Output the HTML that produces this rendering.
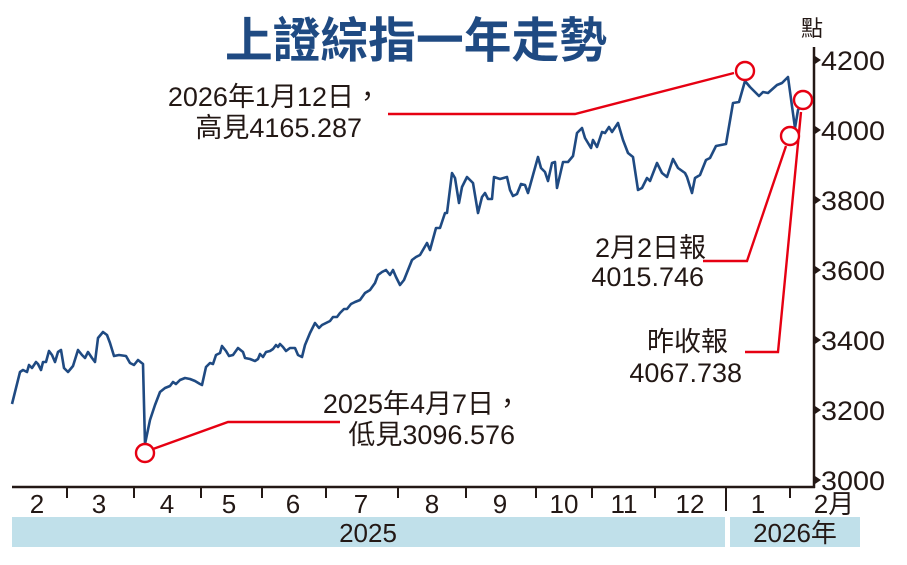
<!DOCTYPE html>
<html><head><meta charset="utf-8"><style>
html,body{margin:0;padding:0;background:#fff;}
svg{display:block;}
text{font-family:"Liberation Sans","Noto Sans CJK TC",sans-serif;fill:#231815;}
</style></head><body>
<svg width="907" height="565" viewBox="0 0 907 565" xmlns="http://www.w3.org/2000/svg">
<text x="225" y="57" font-size="48" font-weight="bold" textLength="382" lengthAdjust="spacingAndGlyphs" style="fill:#1f4a82" font-family="'Noto Sans CJK TC',sans-serif">上證綜指一年走勢</text>
<text x="812" y="36" text-anchor="middle" font-size="22">點</text>
<!-- axes -->
<line x1="814" y1="47" x2="814" y2="488" stroke="#231815" stroke-width="2.5"/>
<line x1="12" y1="487" x2="815" y2="487" stroke="#231815" stroke-width="2.5"/>
<g stroke="#231815" stroke-width="2">
<line x1="67" y1="487" x2="67" y2="498"/><line x1="134" y1="487" x2="134" y2="498"/>
<line x1="201" y1="487" x2="201" y2="498"/><line x1="262" y1="487" x2="262" y2="498"/>
<line x1="326" y1="487" x2="326" y2="498"/><line x1="398" y1="487" x2="398" y2="498"/>
<line x1="466" y1="487" x2="466" y2="498"/><line x1="536" y1="487" x2="536" y2="498"/>
<line x1="592" y1="487" x2="592" y2="498"/><line x1="655" y1="487" x2="655" y2="498"/>
<line x1="726" y1="487" x2="726" y2="511"/><line x1="790" y1="487" x2="790" y2="498"/>
</g>
<g font-size="26" text-anchor="middle">
<text x="37" y="513">2</text><text x="99" y="513">3</text><text x="167" y="513">4</text>
<text x="229" y="513">5</text><text x="293" y="513">6</text><text x="361" y="513">7</text>
<text x="432" y="513">8</text><text x="500" y="513">9</text><text x="564" y="513">10</text>
<text x="624" y="513">11</text><text x="690" y="513">12</text><text x="758" y="513">1</text>
<text x="834" y="513">2月</text>
</g>
<rect x="12" y="517" width="713" height="30" fill="#c0e0ea"/>
<rect x="730" y="517" width="130" height="30" fill="#c0e0ea"/>
<text x="368" y="542" font-size="26" text-anchor="middle">2025</text>
<text x="795" y="542" font-size="26" text-anchor="middle">2026年</text>
<!-- y ticks -->
<g font-size="27">
<text x="821" y="70" textLength="64" lengthAdjust="spacingAndGlyphs">4200</text>
<text x="821" y="140" textLength="64" lengthAdjust="spacingAndGlyphs">4000</text>
<text x="821" y="210" textLength="64" lengthAdjust="spacingAndGlyphs">3800</text>
<text x="821" y="280" textLength="64" lengthAdjust="spacingAndGlyphs">3600</text>
<text x="821" y="350" textLength="64" lengthAdjust="spacingAndGlyphs">3400</text>
<text x="821" y="420" textLength="64" lengthAdjust="spacingAndGlyphs">3200</text>
<text x="821" y="490" textLength="64" lengthAdjust="spacingAndGlyphs">3000</text>
</g>
<g fill="#231815">
<polygon points="815,56 821,60 815,64"/><polygon points="815,126 821,130 815,134"/>
<polygon points="815,196 821,200 815,204"/><polygon points="815,266 821,270 815,274"/>
<polygon points="815,336 821,340 815,344"/><polygon points="815,406 821,410 815,414"/>
<polygon points="815,476 821,480 815,484"/>
</g>
<!-- series -->
<polyline fill="none" stroke="#1f4a82" stroke-width="2.6" stroke-linejoin="round" points="12,404 20,372 23,370 27,372 29,365 32,368 36,362 38,364 41,370 43,362 46,362 49,351 52,355 55,362 58,352 61,350 64,368 68,372 73,366 78,350 82,355 85,358 88,352 92,358 95,362 98,338 103,332 107,335 110,343 114,356 119,355 126,356 130,363 134,365 138,360 143,364 145,444 150,420 155,405 160,392 165,388 170,386 173,382 176,384 180,380 185,378 190,379 195,381 200,384 202,385 206,367 210,363 213,364 216,355 220,353 222,346 226,351 229,356 233,355 238,348 243,352 245,358 250,359 255,361 258,359 260,354 263,357 266,352 270,351 273,349 276,345 278,347 280,344 283,347 286,351 290,348 295,348 298,355 302,357 305,345 310,333 315,323 319,328 322,325 326,323 330,321 333,317 337,317 340,313 344,309 347,309 351,304 355,302 360,300 365,293 370,290 375,283 378,275 382,272 386,270 390,275 393,270 396,277 400,285 404,280 408,270 412,260 416,257 420,255 427,243 430,250 436,228 440,228 445,213 447,213 452,173 455,178 459,203 462,187 467,177 473,183 478,213 482,197 485,193 488,199 492,199 494,177 500,179 507,177 510,190 513,196 517,194 521,184 525,185 528,193 533,175 538,157 541,168 545,172 548,181 552,163 555,162 557,188 563,162 568,162 573,156 577,133 582,128 585,138 591,148 593,140 597,147 602,132 605,133 609,127 612,132 618,123 623,140 628,153 633,157 638,190 642,188 647,178 650,181 657,163 662,173 667,177 673,159 678,168 685,173 687,177 692,193 695,178 700,175 706,160 710,158 716,146 726,144 733,103 739,102 745,81 750,87 759,96 763,92 768,93 777,85 782,83 788,77 795,128 798,110 802,104"/>
<!-- annotations -->
<g fill="none" stroke="#e60012" stroke-width="2.4">
<polyline points="388,114 575,114 734,73"/>
<polyline points="153,449 228,422 340,422"/>
<polyline points="703,261 747,261 786,146"/>
<polyline points="745,352 778,352 801,112"/>
<circle cx="745" cy="71" r="9" fill="#fff"/>
<circle cx="145" cy="453" r="9" fill="#fff"/>
<circle cx="790" cy="136" r="9" fill="#fff"/>
<circle cx="803" cy="100" r="9" fill="#fff"/>
</g>
<g font-size="27" text-anchor="end">
<text x="381" y="106">2026年1月12日，</text>
<text x="362" y="137">高見4165.287</text>
<text x="521" y="413">2025年4月7日，</text>
<text x="515" y="444">低見3096.576</text>
<text x="706" y="257">2月2日報</text>
<text x="704" y="286">4015.746</text>
<text x="728" y="351">昨收報</text>
<text x="742" y="382">4067.738</text>
</g>
</svg>
</body></html>
